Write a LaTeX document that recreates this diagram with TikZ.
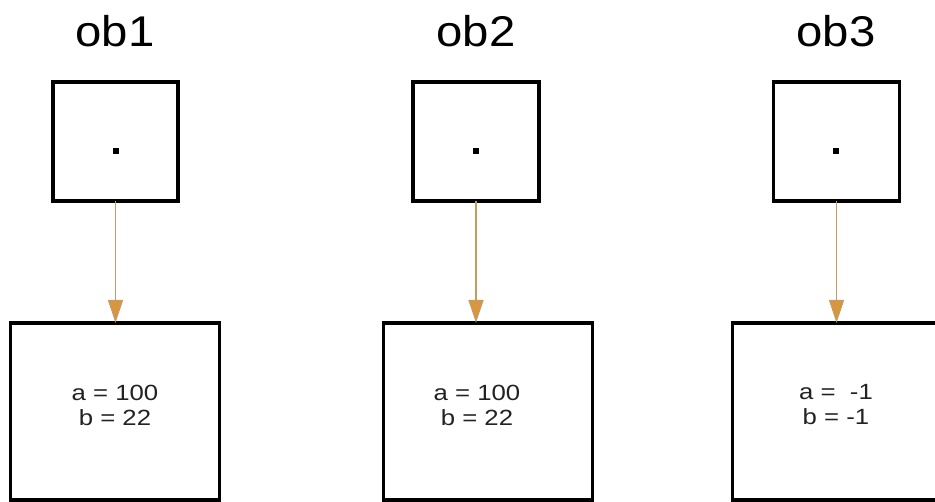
\documentclass[tikz,border=0pt]{standalone}
\usepackage{fontspec}
\setmainfont{Liberation Sans}
\newfontfamily\titlefont[FakeStretch=1.1]{Liberation Sans}
\newfontfamily\valfont[FakeStretch=1.17]{Liberation Sans}
\usetikzlibrary{arrows.meta}
\definecolor{arrowc}{HTML}{D8963E}
\definecolor{arrowline}{HTML}{C89A60}
\definecolor{valtext}{HTML}{222222}
\begin{document}
\begin{tikzpicture}[x=1pt,y=-1pt,
  refbox/.style={draw=black,line width=3.2pt,rectangle,inner sep=0pt,outer sep=0pt},
  title/.style={font=\titlefont\fontsize{43}{48}\selectfont,inner sep=0pt,anchor=center},
  vals/.style={font=\valfont\fontsize{22}{25}\selectfont,text=valtext,align=center,inner sep=0pt},
  pointer/.style={draw=arrowline,line width=1.3pt,-{Triangle[width=15pt,length=23pt,fill=arrowc]}},
  dotmark/.style={fill=black,minimum size=5.5pt,inner sep=0pt,rectangle}]
\useasboundingbox (0,0) rectangle (935,502);
\clip (0,0) rectangle (935,502);
% titles
\node[title] (t1) at (115,31) {ob1};
\node[title] (t2) at (476,31) {ob2};
\node[title] (t3) at (836,31) {ob3};
% reference boxes
\node[refbox,minimum width=125pt,minimum height=119pt] (r1) at (115.5,141.5) {};
\node[refbox,minimum width=126pt,minimum height=119pt] (r2) at (476,141.5) {};
\node[refbox,minimum width=126pt,minimum height=119pt] (r3) at (836.5,141.5) {};
\node[dotmark] (d1) at (116,151) {};
\node[dotmark] (d2) at (476,151) {};
\node[dotmark] (d3) at (836,151) {};
% object boxes
\node[refbox,minimum width=209pt,minimum height=177pt] (o1) at (115,411.5) {};
\node[refbox,minimum width=209pt,minimum height=177pt] (o2) at (488,411.5) {};
\node[refbox,minimum width=260pt,minimum height=177pt] (o3) at (862.5,411.5) {};
% values
\node[vals] (v1) at (115,405) {a = 100\\b = 22};
\node[vals] (v2) at (477,405) {a = 100\\b = 22};
\node[vals] (v3) at (836,405) {a =\ \ -1\\b = -1};
% pointers
\draw[pointer] (r1.south) -- (r1.south |- o1.north);
\draw[pointer] (r2.south) -- (r2.south |- o2.north);
\draw[pointer] (r3.south) -- (r3.south |- o3.north);
\end{tikzpicture}
\end{document}
